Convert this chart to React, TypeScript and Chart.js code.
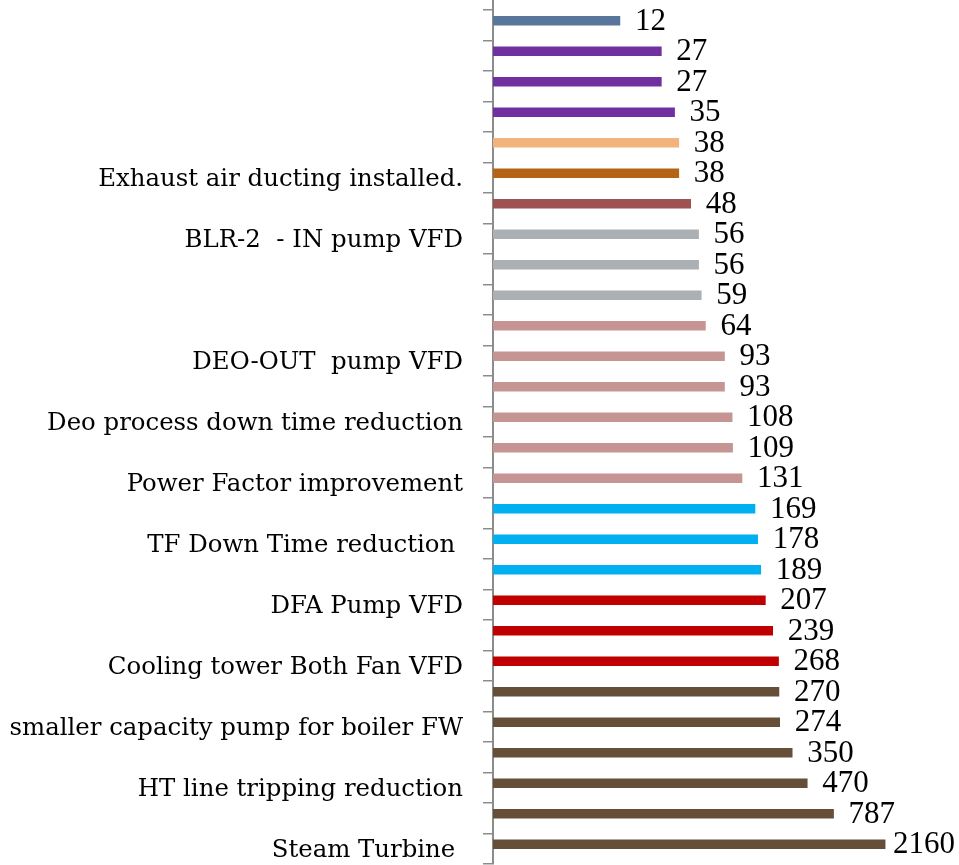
import { useEffect, useRef } from "react";
import { Chart, registerables } from "chart.js";

Chart.register(...registerables);

// Energy-saving projects, top to bottom (blank names are unlabelled rows)
const categories: string[] = [
  "",
  "",
  "",
  "",
  "",
  "Exhaust air ducting installed.",
  "",
  "BLR-2  - IN pump VFD",
  "",
  "",
  "",
  "DEO-OUT  pump VFD",
  "",
  "Deo process down time reduction",
  "",
  "Power Factor improvement",
  "",
  "TF Down Time reduction ",
  "",
  "DFA Pump VFD",
  "",
  "Cooling tower Both Fan VFD",
  "",
  "smaller capacity pump for boiler FW",
  "",
  "HT line tripping reduction",
  "",
  "Steam Turbine ",
];

const savings: number[] = [
  12, 27, 27, 35, 38, 38, 48, 56, 56, 59, 64, 93, 93, 108, 109, 131, 169, 178,
  189, 207, 239, 268, 270, 274, 350, 470, 787, 2160,
];

const barColors: string[] = [
  "#58759A",
  "#7030A0", "#7030A0", "#7030A0",
  "#F2B47C",
  "#B46414",
  "#9E5352",
  "#AAB0B3", "#AAB0B3", "#AAB0B3",
  "#C69593", "#C69593", "#C69593", "#C69593", "#C69593", "#C69593",
  "#00B0F0", "#00B0F0", "#00B0F0",
  "#C00000", "#C00000", "#C00000",
  "#654F38", "#654F38", "#654F38", "#654F38", "#654F38", "#654F38",
];

const AXIS_COLOR = "#8C8C8C";
const VALUE_FONT = "'Liberation Serif', 'Times New Roman', serif";
const LABEL_FONT = "'DejaVu Serif', serif";

export default function App() {
  const canvasRef = useRef<HTMLCanvasElement>(null);

  useEffect(() => {
    const canvas = canvasRef.current;
    if (!canvas) return;

    // the category axis line continues up to the top edge
    const axisTop = {
      id: "axisTop",
      afterDraw(chart: any) {
        const { ctx, chartArea } = chart;
        ctx.save();
        ctx.strokeStyle = AXIS_COLOR;
        ctx.lineWidth = 2;
        ctx.beginPath();
        ctx.moveTo(chartArea.left, 0);
        ctx.lineTo(chartArea.left, chartArea.top);
        ctx.stroke();
        ctx.restore();
      },
    };

    // value printed to the right of each bar
    const valueLabels = {
      id: "valueLabels",
      afterDatasetsDraw(chart: any) {
        const { ctx } = chart;
        const meta = chart.getDatasetMeta(0);
        ctx.save();
        ctx.font = `31px ${VALUE_FONT}`;
        ctx.fillStyle = "#000000";
        ctx.textBaseline = "middle";
        ctx.textAlign = "left";
        meta.data.forEach((bar: any, i: number) => {
          const text = String(savings[i]);
          const w = ctx.measureText(text).width;
          const x = Math.min(bar.x + 15, chart.width - 4 - w);
          ctx.fillText(text, x, bar.y + 1);
        });
        ctx.restore();
      },
    };

    const chart = new Chart(canvas, {
      type: "bar",
      data: {
        labels: categories,
        datasets: [
          {
            label: "Savings",
            data: savings,
            backgroundColor: barColors,
            barThickness: 9,
          },
          {
            // empty companion series, keeps the bars in the upper slot
            label: "",
            data: savings.map(() => null),
            barThickness: 9,
          },
        ],
      },
      options: {
        indexAxis: "y",
        responsive: false,
        animation: false,
        devicePixelRatio: 1,
        layout: { padding: { top: 10, bottom: 1, left: 0, right: 1 } },
        plugins: {
          legend: { display: false },
          title: { display: false },
          tooltip: { enabled: false },
        },
        scales: {
          x: {
            type: "logarithmic",
            min: 1,
            max: 9000,
            display: false,
          },
          y: {
            type: "category",
            afterFit(scale: any) {
              scale.width = 493;
              scale.paddingTop = 0;
              scale.paddingBottom = 0;
            },
            border: { display: true, color: AXIS_COLOR, width: 2 },
            grid: {
              display: true,
              offset: true,
              drawOnChartArea: false,
              drawTicks: true,
              tickLength: 10,
              color: AXIS_COLOR,
              lineWidth: 1.5,
            },
            ticks: {
              autoSkip: false,
              padding: 20,
              labelOffset: 2,
              color: "#000000",
              font: { family: LABEL_FONT, size: 24.4 },
            },
          },
        },
      },
      plugins: [axisTop, valueLabels],
    } as any);

    return () => chart.destroy();
  }, []);

  return (
    <div style={{ position: "fixed", left: 0, top: 0, width: 959, height: 865, background: "#ffffff" }}>
      <canvas ref={canvasRef} width={959} height={865} />
    </div>
  );
}
